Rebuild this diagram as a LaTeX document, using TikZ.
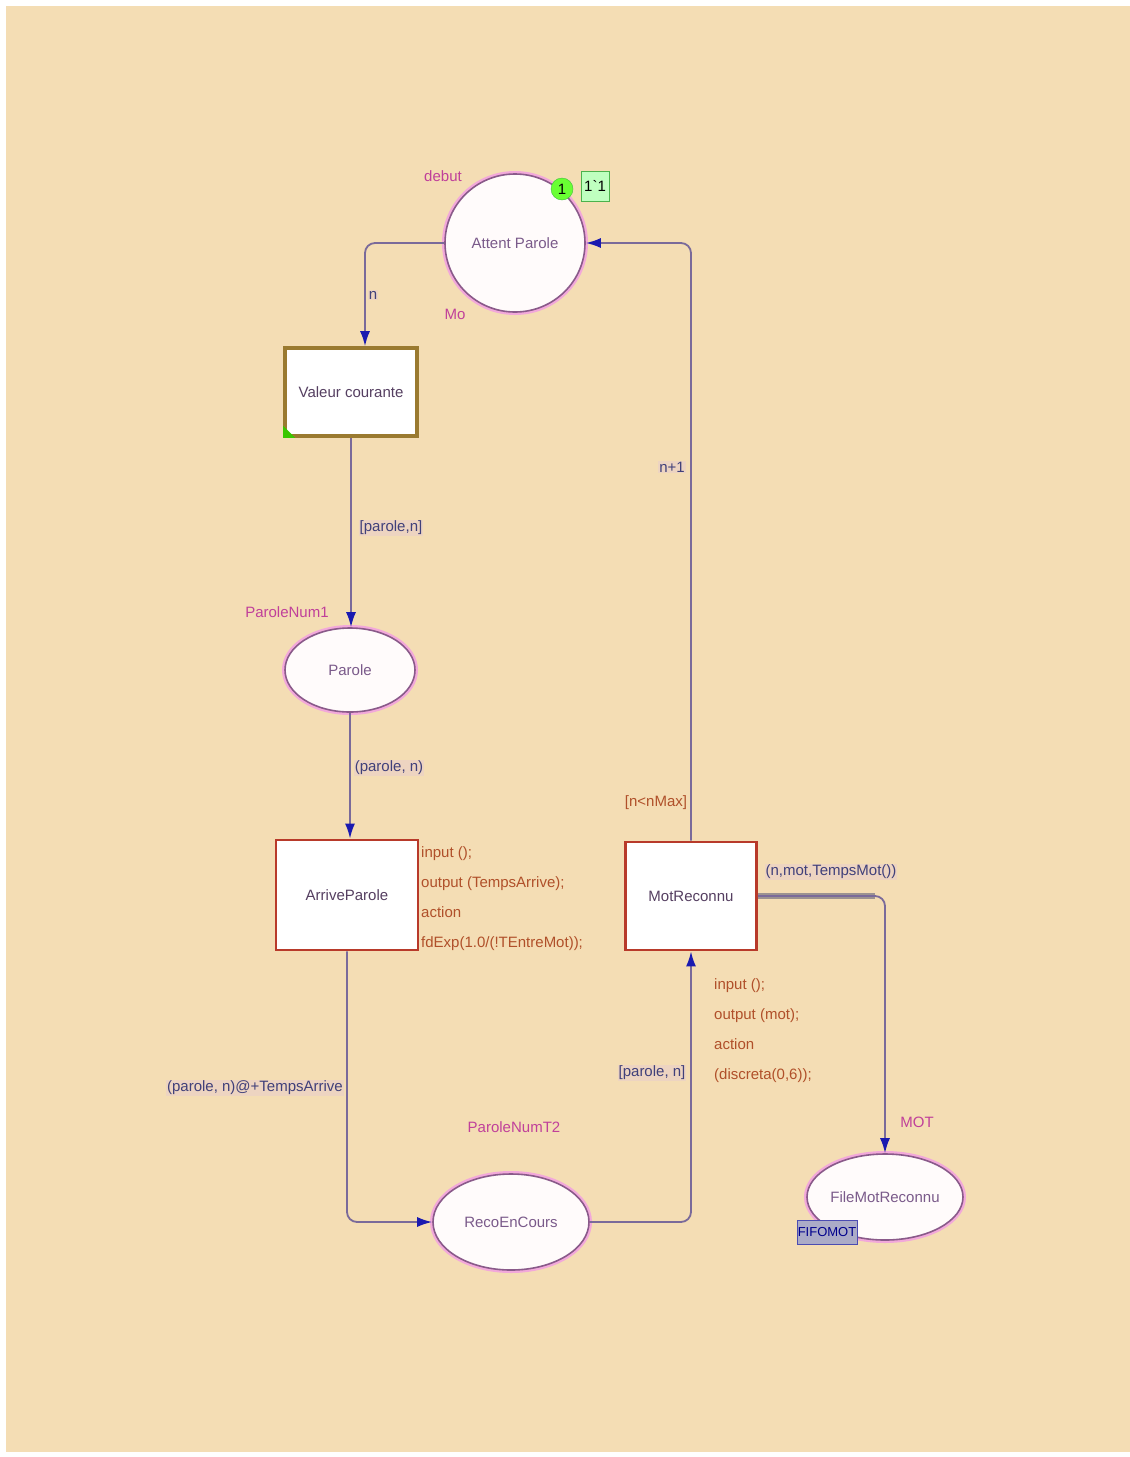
\documentclass[tikz,border=0pt]{standalone}
\usepackage{fontspec}
\setmainfont{Liberation Sans}
\usepackage{tikz}
\usetikzlibrary{positioning,arrows.meta,shapes.geometric,calc}
\definecolor{bgbeige}{HTML}{F4DDB4}
\definecolor{arcline}{HTML}{7A6A9A}
\definecolor{arctip}{HTML}{1A1AB0}
\definecolor{placeline}{HTML}{8A5A8A}
\definecolor{placeglow}{HTML}{F2A8DA}
\definecolor{placetext}{HTML}{7A5A8A}
\definecolor{magtext}{HTML}{C0409A}
\definecolor{arctext}{HTML}{40407A}
\definecolor{codetext}{HTML}{B0502A}
\definecolor{transred}{HTML}{B83A2A}
\definecolor{transolive}{HTML}{9A7A30}

\begin{document}
\begin{tikzpicture}[x=1pt, y=-1pt,
  place/.style={ellipse, draw=placeline, line width=1.6pt, fill=white!94!pink,
                preaction={draw=placeglow, line width=6pt},
                inner sep=0pt, text=placetext, font=\fontsize{15}{18}\selectfont},
  trans/.style={rectangle, draw=transred, line width=2.8pt, fill=white,
                inner sep=0pt, text=placetext!70!black, font=\fontsize{15}{18}\selectfont},
  arc/.style={-{Latex[length=15pt, width=10pt, color=arctip]}, draw=arcline, line width=1.8pt,
              rounded corners=10pt},
  arclab/.style={font=\fontsize{15}{18}\selectfont, text=arctext, inner sep=1pt,
                 fill=white!55!bgbeige!85!violet, fill opacity=0.5, text opacity=1},
  tag/.style={font=\fontsize{15}{18}\selectfont, text=magtext, inner sep=1pt},
  code/.style={font=\fontsize{15}{30}\selectfont, text=codetext, align=left, inner sep=0pt},
]
\useasboundingbox (0,0) rectangle (1130,1457);
\fill[white] (0,0) rectangle (1130,1457);
\fill[bgbeige] (6,6) rectangle (1130,1452);

% --- places ---
\node[place, minimum width=140pt, minimum height=138pt] (att) at (515,243) {Attent Parole};
\node[place, minimum width=130pt, minimum height=84pt] (par) at (350,670) {Parole};
\node[place, minimum width=156pt, minimum height=96pt] (reco) at (511,1222) {RecoEnCours};
\node[place, minimum width=156pt, minimum height=86pt] (file) at (885,1197) {FileMotReconnu};

% --- transitions ---
\node[trans, draw=transolive, line width=3.6pt, minimum width=132pt, minimum height=88pt] (val) at (351,392) {Valeur courante};
\fill[green!55!olive] (val.south west) -- ++(12,0) -- ++(-12,-12) -- cycle;
\node[trans, minimum width=142pt, minimum height=110pt] (arr) at (347,895) {ArriveParole};
\node[trans, minimum width=131pt, minimum height=108pt] (mot) at (691,896) {MotReconnu};

% --- place tags ---
\node[tag] (attcol) at (443,176) {debut};
\node[tag] (attinit) at (455,314) {Mo};
\node[tag] (parcol) at (287,612) {ParoleNum1};
\node[tag] (recocol) at (514,1127) {ParoleNumT2};
\node[tag] (filecol) at (917,1122) {MOT};
\node[draw=green!50!gray, fill=green!65!lime!80!white, circle, minimum size=22pt, inner sep=0pt,
      font=\fontsize{15}{18}\selectfont] (tok) at (562,189) {1};
\node[draw=green!40!gray, fill=green!25!white, minimum width=28pt, minimum height=30pt, inner sep=1pt,
      font=\fontsize{15}{18}\selectfont] (tokval) at (595,186) {1\textasciigrave 1};
\node[draw=blue!40!gray, fill=blue!20!gray!55!white, text=blue!55!black, minimum width=60pt,
      minimum height=24pt, inner sep=1pt, font=\fontsize{13}{15}\selectfont] (fus) at (827,1232) {FIFOMOT};

% --- arcs ---
\draw[arc] (att.west) -| ([xshift=14pt]val.north);
\draw[arc] (val.south) -- (val.south |- par.north);
\draw[arc] (par.south) -- (par.south |- arr.north);
\draw[arc] (arr.south) |- (reco.west);
\draw[arc] (reco.east) -| (mot.south);
\draw[arc] (mot.north) |- (att.east);
\coordinate (bend) at (885,896);
\draw[gray!75!arcline, line width=6pt, opacity=0.75] (mot.east) -- ([xshift=-10pt]bend);
\draw[arc] (mot.east) -| (file.north);

% --- arc inscriptions ---
\node[arclab] (l1) at (373,295) {n};
\node[arclab] (l2) at (391,528) {[parole,n]};
\node[arclab] (l3) at (389,768) {(parole, n)};
\node[arclab] (l4) at (255,1088) {(parole, n)@+TempsArrive};
\node[arclab] (l5) at (652,1073) {[parole, n]};
\node[arclab] (l6) at (672,467) {n+1};
\node[arclab] (l7) at (831,872) {(n,mot,TempsMot())};

% --- guards and code ---
\node[tag, text=codetext] (guard) at (656,803) {[n<nMax]};
\node[code, anchor=north west] (arrcode) at (421,846)
  {input ();\\output (TempsArrive);\\action\\fdExp(1.0/(!TEntreMot));};
\node[code, anchor=north west] (motcode) at (714,978)
  {input ();\\output (mot);\\action\\(discreta(0,6));};
\end{tikzpicture}
\end{document}
